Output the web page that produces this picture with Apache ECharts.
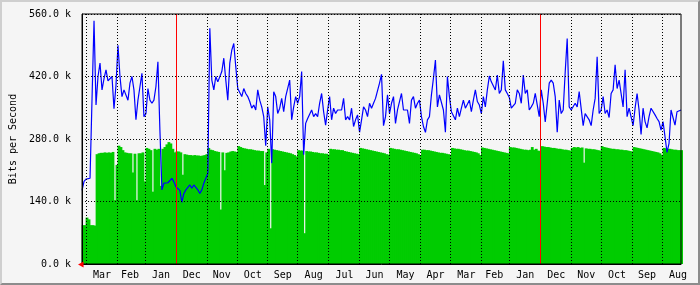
<!DOCTYPE html>
<html><head><meta charset="utf-8">
<script src="https://cdn.jsdelivr.net/npm/echarts@6/dist/echarts.min.js"></script>
<style>
html,body{margin:0;padding:0;background:#f5f5f5;}
#wrap{position:relative;width:700px;height:285px;background:#f5f5f5;overflow:hidden;}
#chart{position:absolute;left:0;top:0;width:700px;height:285px;}
#frame{position:absolute;left:0;top:0;width:700px;height:285px;box-sizing:border-box;border-top:2px solid #cfcfcf;border-left:2px solid #cfcfcf;border-right:2px solid #8c8c8c;border-bottom:2px solid #8c8c8c;pointer-events:none;}
</style></head><body>
<div id="wrap"><div id="chart"></div><div id="frame"></div></div>
<script>
// ---- data (k bits/s), one sample every STEP days, newest day on the left ----
const STEP = 2;
const END_DATE = Date.UTC(2011, 3, 5);   // newest day shown (left edge)
const DAYS = 600;                        // days shown across the plot
const monthNames = ['Jan','Feb','Mar','Apr','May','Jun','Jul','Aug','Sep','Oct','Nov','Dec'];
const yTicks = [0, 140, 280, 420, 560];

// blue line (average incoming traffic)
const blueVals = [
165,185,190,190,192,370,545,356,420,450,
390,415,435,410,410,420,348,400,490,420,
375,390,390,367,405,420,390,323,367,397,
427,330,337,393,367,360,367,397,453,300,
166,181,177,182,184,192,184,173,173,165,
138,158,166,170,177,170,177,181,166,158,
166,181,184,203,528,412,390,420,408,408,
431,461,412,367,450,479,494,442,393,393,
375,393,382,375,364,349,356,345,390,367,
352,330,265,352,323,226,386,375,337,349,
371,341,375,375,412,323,352,375,360,375,
431,245,315,326,330,345,330,337,330,360,
382,341,311,345,375,323,349,337,345,349,
345,371,323,330,323,349,308,323,334,295,
323,352,345,330,360,349,360,371,367,405,
425,310,330,379,337,360,375,315,345,345,
382,345,345,345,315,367,375,349,360,367,
330,308,295,323,330,379,416,457,352,379,
375,345,295,420,375,341,345,323,349,330,
349,367,349,352,367,341,367,390,364,356,
337,375,352,390,421,408,408,390,423,382,
390,455,390,382,373,349,345,360,390,382,
360,423,382,390,345,352,360,382,382,330,
390,360,318,360,405,412,405,375,295,367,
337,345,430,505,352,345,345,360,352,386,
390,310,337,337,323,310,345,371,464,337,
345,375,337,345,328,382,390,446,393,412,
382,352,435,330,349,349,310,349,382,345,
290,349,319,305,330,349,345,334,326,319,
300,319,285,250,270,345,341,311,341,345,
345];

// green area (average outgoing traffic)
const greenVals = [
87,87,104,100,87,87,86,246,248,249,
249,250,249,250,249,251,143,222,265,262,
255,250,249,248,248,205,247,143,248,248,
250,185,260,258,255,162,258,256,258,175,
258,262,268,273,270,258,250,252,252,250,
200,246,245,244,244,243,244,243,243,242,
243,244,246,260,256,255,253,252,251,122,
250,210,249,250,252,253,252,251,264,262,
260,259,258,257,257,256,255,254,254,253,
253,177,250,258,80,257,256,255,254,253,
252,251,250,249,248,246,244,241,255,254,
254,69,253,252,252,251,250,250,249,248,
248,247,247,245,258,257,257,256,256,255,
255,253,252,251,250,249,248,247,246,260,
259,258,257,256,255,254,253,252,251,250,
249,248,246,245,260,259,258,257,257,256,
255,254,253,252,251,250,249,248,246,244,
256,256,255,255,254,253,252,251,250,249,
249,248,247,246,245,260,259,258,258,257,
256,255,254,254,253,252,251,250,248,244,
261,260,259,258,257,256,255,254,253,252,
251,250,249,248,262,261,261,260,259,258,
257,256,256,255,256,262,256,258,254,253,
264,263,262,262,261,260,260,259,258,258,
257,256,256,255,254,260,262,261,262,260,
261,227,259,258,258,257,257,256,255,254,
264,262,261,260,259,258,258,257,257,256,
256,255,255,254,253,252,262,261,260,259,
258,257,256,255,254,253,252,251,250,248,
244,260,259,258,258,257,256,256,255,255,
255];

// ---- day categories (index = days before END_DATE) ----
const dayDates = [];
for (let i = 0; i <= DAYS; i++) dayDates.push(new Date(END_DATE - i * 86400000));
const days = dayDates.map(d => d.toISOString().slice(0, 10));
const isMonthStart = dayDates.map(d => d.getUTCDate() === 1);
const isYearStart = dayDates.map(d => d.getUTCDate() === 1 && d.getUTCMonth() === 0);
const isLabelDay = dayDates.map(d => d.getUTCDate() === 16);

const blueData = blueVals.map((v, k) => [k * STEP, v]);
// each green sample covers the STEP days that start at its day index
const greenData = greenVals.map((v, k) => [k * STEP + STEP / 2, v]);

const GRID_W = 600;
const FONT = 'DejaVu Sans Mono';
const chart = echarts.init(document.getElementById('chart'));
chart.setOption({
  animation: false,
  backgroundColor: 'transparent',
  grid: {left: 81, top: 14, width: GRID_W, height: 250, show: true, borderColor: '#000', borderWidth: 1, backgroundColor: 'transparent', z: 8},
  xAxis: [{
    type: 'category', data: days, boundaryGap: false, z: 6,
    axisLine: {show: true, lineStyle: {color: '#000', width: 1}},
    axisTick: {show: false},
    axisLabel: {
      interval: (i) => isLabelDay[i],
      formatter: (v, i) => monthNames[dayDates[i].getUTCMonth()],
      fontFamily: FONT, fontSize: 10, color: '#000', margin: 6
    },
    splitLine: {show: true, interval: (i) => isMonthStart[i] && !isYearStart[i], lineStyle: {color: '#000', width: 1, type: [1, 2]}}
  }, {
    type: 'category', data: days, boundaryGap: false, z: 7,
    axisLine: {show: false}, axisTick: {show: false}, axisLabel: {show: false},
    splitLine: {show: true, interval: (i) => isYearStart[i], lineStyle: {color: '#ff0000', width: 1}}
  }, {
    type: 'value', min: 0, max: DAYS, show: false
  }],
  yAxis: {
    type: 'value', min: yTicks[0], max: yTicks[yTicks.length - 1], interval: yTicks[1] - yTicks[0], z: 6,
    axisLine: {show: true, lineStyle: {color: '#000'}},
    axisTick: {show: false},
    axisLabel: {formatter: v => v.toFixed(1) + ' k', fontFamily: FONT, fontSize: 10, color: '#000', margin: 11},
    splitLine: {show: true, lineStyle: {color: '#000', width: 1, type: [1, 2]}},
    name: 'Bits per Second', nameLocation: 'middle', nameGap: 56,
    nameTextStyle: {fontFamily: FONT, fontSize: 10, color: '#000'}
  },
  series: [{
    type: 'bar', xAxisIndex: 2, data: greenData, z: 2,
    barWidth: STEP * GRID_W / DAYS + 0.8,
    itemStyle: {color: '#00cc00', borderWidth: 0}
  }, {
    type: 'line', xAxisIndex: 2, data: blueData, symbol: 'none', z: 3,
    lineStyle: {width: 1.2, color: '#0000ff'}, itemStyle: {color: '#0000ff'}
  }]
});
const o = chart.convertToPixel({xAxisIndex: 2, yAxisIndex: 0}, [0, 0]);
chart.setOption({graphic: [{type: 'polygon', z: 20, silent: true,
  shape: {points: [[o[0] - 4, o[1] + 0.5], [o[0] + 1.5, o[1] - 2.5], [o[0] + 1.5, o[1] + 3.5]]},
  style: {fill: '#ff0000'}}]});
</script>
</body></html>
